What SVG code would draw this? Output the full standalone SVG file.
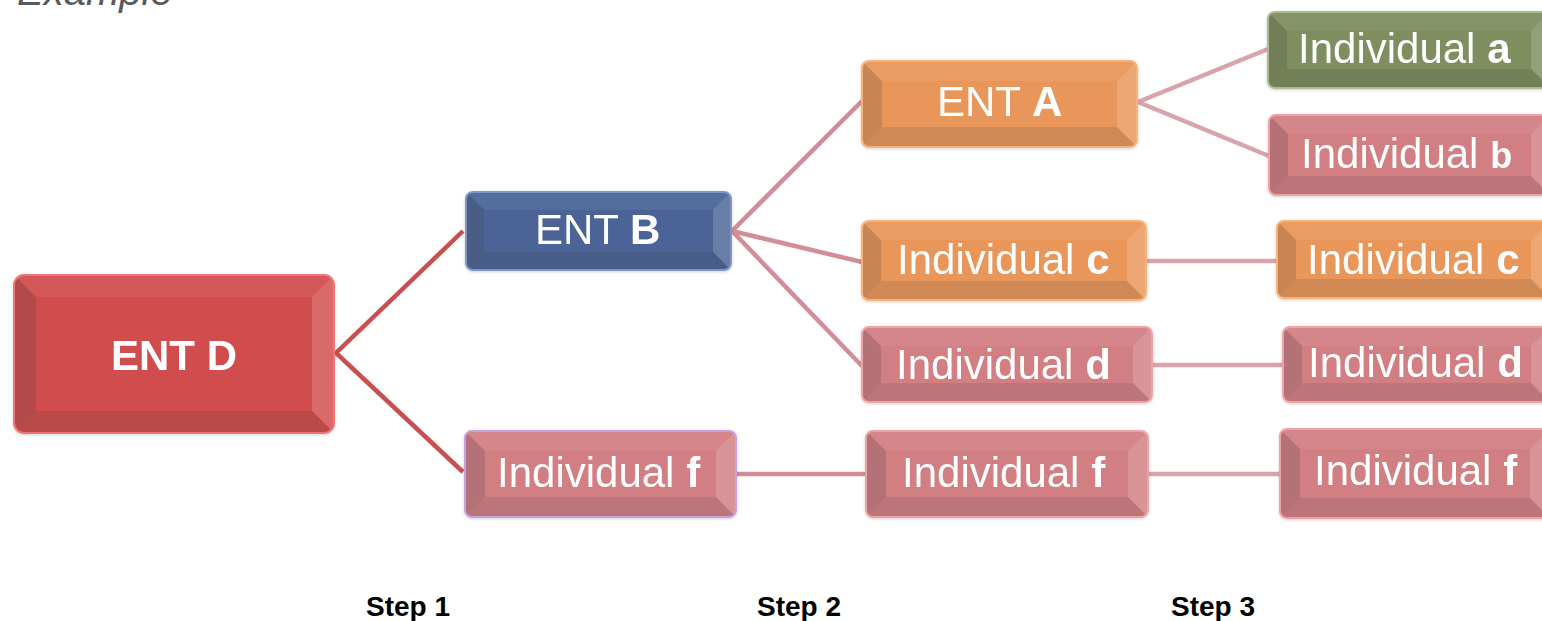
<svg xmlns="http://www.w3.org/2000/svg" width="1542" height="621" viewBox="0 0 1542 621">
  <style>
    .txt { font-family: "Liberation Sans", Arial, sans-serif; fill: #ffffff; font-size: 42px; }
    .b { font-weight: bold; }
    .step { font-family: "Liberation Sans", Arial, sans-serif; font-weight: bold; font-size: 28px; fill: #000; text-anchor: middle; }
    .title { font-family: "Liberation Sans", Arial, sans-serif; font-style: italic; font-size: 40px; fill: #595959; }
    .hi { fill: #ffffff; fill-opacity: 0.06; }
    .hr { fill: #ffffff; fill-opacity: 0.17; }
    .lo { fill: #404040; fill-opacity: 0.2; }
    .lb { fill: #303030; fill-opacity: 0.13; }
    .red { fill: #d14d4e; }
    .blue { fill: #4b6496; }
    .orange { fill: #e9965a; }
    .pink { fill: #d27f84; }
    .green { fill: #7e8e5f; }
    .edge { fill: none; stroke-width: 2; }
    .redS { stroke: #f27474; }
    .blueS { stroke: #7e97c9; }
    .orangeS { stroke: #fcb272; }
    .pinkS { stroke: #f0a2a6; }
    .purpleS { stroke: #c6a2e2; }
    .greenS { stroke: #aabb8c; }
    .c1 { stroke: #c85050; stroke-width: 4.5; fill: none; }
    .c2 { stroke: #d48d96; stroke-width: 4.5; fill: none; }
    .c3 { stroke: #d9a3ac; stroke-width: 4.5; fill: none; }
  </style>
  <defs>
    <filter id="soft" x="-5%" y="-10%" width="110%" height="120%">
      <feGaussianBlur in="SourceAlpha" stdDeviation="1.5"/>
      <feOffset dx="0" dy="1" result="b"/>
      <feFlood flood-color="#000" flood-opacity="0.18"/>
      <feComposite in2="b" operator="in"/>
      <feMerge><feMergeNode/><feMergeNode in="SourceGraphic"/></feMerge>
    </filter>
    <clipPath id="kD"><rect x="14" y="275" width="320" height="158" rx="10"/></clipPath>
    <clipPath id="kB"><rect x="466" y="192" width="265" height="78" rx="7"/></clipPath>
    <clipPath id="kF1"><rect x="465" y="431" width="271" height="86" rx="7"/></clipPath>
    <clipPath id="kA"><rect x="862" y="61" width="275" height="86" rx="7"/></clipPath>
    <clipPath id="kC2"><rect x="862" y="221" width="284" height="79" rx="7"/></clipPath>
    <clipPath id="kD2"><rect x="862" y="327" width="290" height="75" rx="7"/></clipPath>
    <clipPath id="kF2"><rect x="866" y="431" width="282" height="86" rx="7"/></clipPath>
    <clipPath id="kA3"><rect x="1268" y="12" width="282" height="76" rx="7"/></clipPath>
    <clipPath id="kB3"><rect x="1269" y="115" width="281" height="80" rx="7"/></clipPath>
    <clipPath id="kC3"><rect x="1277" y="221" width="273" height="77" rx="7"/></clipPath>
    <clipPath id="kD3"><rect x="1283" y="327" width="267" height="75" rx="7"/></clipPath>
    <clipPath id="kF3"><rect x="1280" y="429" width="270" height="89" rx="7"/></clipPath>
  </defs>

  <rect width="1542" height="621" fill="#ffffff"/>
  <text class="title" x="17" y="5">Example</text>

  <!-- connectors -->
  <g id="connectors">
    <polyline class="c1" points="463,231 336,353 463,472"/>
    <line class="c2" x1="732" y1="231" x2="862" y2="101"/>
    <line class="c2" x1="732" y1="231" x2="862" y2="262"/>
    <line class="c2" x1="732" y1="231" x2="862" y2="366"/>
    <line class="c2" x1="736" y1="474" x2="866" y2="474"/>
    <line class="c3" x1="1138" y1="102" x2="1268" y2="49"/>
    <line class="c3" x1="1138" y1="102" x2="1269" y2="156"/>
    <line class="c3" x1="1146" y1="261" x2="1277" y2="261"/>
    <line class="c3" x1="1152" y1="365" x2="1283" y2="365"/>
    <line class="c3" x1="1148" y1="474" x2="1280" y2="474"/>
  </g>

  <!-- ENT D -->
  <g id="entD" filter="url(#soft)">
    <rect class="red" x="14" y="275" width="320" height="158" rx="10"/>
    <g clip-path="url(#kD)">
      <polygon class="hi" points="14,275 334,275 312,297 36,297"/>
      <polygon class="hr" points="334,275 312,297 312,411 334,433"/>
      <polygon class="lo" points="14,275 36,297 36,411 14,433"/>
      <polygon class="lb" points="14,433 334,433 312,411 36,411"/>
    </g>
    <rect class="edge redS" x="14" y="275" width="320" height="158" rx="10"/>
    <text class="txt b" x="174" y="370" font-size="50" text-anchor="middle">ENT D</text>
  </g>

  <!-- ENT B -->
  <g id="entB" filter="url(#soft)">
    <rect class="blue" x="466" y="192" width="265" height="78" rx="7"/>
    <g clip-path="url(#kB)">
      <polygon class="hi" points="466,192 731,192 713,210 484,210"/>
      <polygon class="hr" points="731,192 713,210 713,252 731,270"/>
      <polygon class="lo" points="466,192 484,210 484,252 466,270"/>
      <polygon class="lb" points="466,270 731,270 713,252 484,252"/>
    </g>
    <rect class="edge blueS" x="466" y="192" width="265" height="78" rx="7"/>
    <text class="txt" x="535" y="244">ENT <tspan class="b">B</tspan></text>
  </g>

  <!-- Individual f, step 1 -->
  <g id="indF1" filter="url(#soft)">
    <rect class="pink" x="465" y="431" width="271" height="86" rx="7"/>
    <g clip-path="url(#kF1)">
      <polygon class="hi" points="465,431 736,431 716,451 485,451"/>
      <polygon class="hr" points="736,431 716,451 716,497 736,517"/>
      <polygon class="lo" points="465,431 485,451 485,497 465,517"/>
      <polygon class="lb" points="465,517 736,517 716,497 485,497"/>
    </g>
    <rect class="edge purpleS" x="465" y="431" width="271" height="86" rx="7"/>
    <text class="txt" x="497" y="487">Individual <tspan class="b">f</tspan></text>
  </g>

  <!-- ENT A -->
  <g id="entA" filter="url(#soft)">
    <rect class="orange" x="862" y="61" width="275" height="86" rx="7"/>
    <g clip-path="url(#kA)">
      <polygon class="hi" points="862,61 1137,61 1117,81 882,81"/>
      <polygon class="hr" points="1137,61 1117,81 1117,127 1137,147"/>
      <polygon class="lo" points="862,61 882,81 882,127 862,147"/>
      <polygon class="lb" points="862,147 1137,147 1117,127 882,127"/>
    </g>
    <rect class="edge orangeS" x="862" y="61" width="275" height="86" rx="7"/>
    <text class="txt" x="937" y="116">ENT <tspan class="b">A</tspan></text>
  </g>

  <!-- Individual c, step 2 -->
  <g id="indC2" filter="url(#soft)">
    <rect class="orange" x="862" y="221" width="284" height="79" rx="7"/>
    <g clip-path="url(#kC2)">
      <polygon class="hi" points="862,221 1146,221 1127,240 881,240"/>
      <polygon class="hr" points="1146,221 1127,240 1127,281 1146,300"/>
      <polygon class="lo" points="862,221 881,240 881,281 862,300"/>
      <polygon class="lb" points="862,300 1146,300 1127,281 881,281"/>
    </g>
    <rect class="edge orangeS" x="862" y="221" width="284" height="79" rx="7"/>
    <text class="txt" x="897" y="274">Individual <tspan class="b">c</tspan></text>
  </g>

  <!-- Individual d, step 2 -->
  <g id="indD2" filter="url(#soft)">
    <rect class="pink" x="862" y="327" width="290" height="75" rx="7"/>
    <g clip-path="url(#kD2)">
      <polygon class="hi" points="862,327 1152,327 1133,346 881,346"/>
      <polygon class="hr" points="1152,327 1133,346 1133,383 1152,402"/>
      <polygon class="lo" points="862,327 881,346 881,383 862,402"/>
      <polygon class="lb" points="862,402 1152,402 1133,383 881,383"/>
    </g>
    <rect class="edge pinkS" x="862" y="327" width="290" height="75" rx="7"/>
    <text class="txt" x="896" y="379">Individual <tspan class="b">d</tspan></text>
  </g>

  <!-- Individual f, step 2 -->
  <g id="indF2" filter="url(#soft)">
    <rect class="pink" x="866" y="431" width="282" height="86" rx="7"/>
    <g clip-path="url(#kF2)">
      <polygon class="hi" points="866,431 1148,431 1128,451 886,451"/>
      <polygon class="hr" points="1148,431 1128,451 1128,497 1148,517"/>
      <polygon class="lo" points="866,431 886,451 886,497 866,517"/>
      <polygon class="lb" points="866,517 1148,517 1128,497 886,497"/>
    </g>
    <rect class="edge pinkS" x="866" y="431" width="282" height="86" rx="7"/>
    <text class="txt" x="902" y="487">Individual <tspan class="b">f</tspan></text>
  </g>

  <!-- Individual a, step 3 -->
  <g id="indA3" filter="url(#soft)">
    <rect class="green" x="1268" y="12" width="282" height="76" rx="7"/>
    <g clip-path="url(#kA3)">
      <polygon class="hi" points="1268,12 1550,12 1531,31 1287,31"/>
      <polygon class="hr" points="1550,12 1531,31 1531,69 1550,88"/>
      <polygon class="lo" points="1268,12 1287,31 1287,69 1268,88"/>
      <polygon class="lb" points="1268,88 1550,88 1531,69 1287,69"/>
    </g>
    <rect class="edge greenS" x="1268" y="12" width="282" height="76" rx="7"/>
    <text class="txt" x="1298" y="63">Individual <tspan class="b">a</tspan></text>
  </g>

  <!-- Individual b, step 3 -->
  <g id="indB3" filter="url(#soft)">
    <rect class="pink" x="1269" y="115" width="281" height="80" rx="7"/>
    <g clip-path="url(#kB3)">
      <polygon class="hi" points="1269,115 1550,115 1531,134 1288,134"/>
      <polygon class="hr" points="1550,115 1531,134 1531,176 1550,195"/>
      <polygon class="lo" points="1269,115 1288,134 1288,176 1269,195"/>
      <polygon class="lb" points="1269,195 1550,195 1531,176 1288,176"/>
    </g>
    <rect class="edge pinkS" x="1269" y="115" width="281" height="80" rx="7"/>
    <text class="txt" x="1301" y="168" font-size="40">Individual <tspan class="b" font-size="36">b</tspan></text>
  </g>

  <!-- Individual c, step 3 -->
  <g id="indC3" filter="url(#soft)">
    <rect class="orange" x="1277" y="221" width="273" height="77" rx="7"/>
    <g clip-path="url(#kC3)">
      <polygon class="hi" points="1277,221 1550,221 1531,240 1296,240"/>
      <polygon class="hr" points="1550,221 1531,240 1531,279 1550,298"/>
      <polygon class="lo" points="1277,221 1296,240 1296,279 1277,298"/>
      <polygon class="lb" points="1277,298 1550,298 1531,279 1296,279"/>
    </g>
    <rect class="edge orangeS" x="1277" y="221" width="273" height="77" rx="7"/>
    <text class="txt" x="1307" y="274">Individual <tspan class="b">c</tspan></text>
  </g>

  <!-- Individual d, step 3 -->
  <g id="indD3" filter="url(#soft)">
    <rect class="pink" x="1283" y="327" width="267" height="75" rx="7"/>
    <g clip-path="url(#kD3)">
      <polygon class="hi" points="1283,327 1550,327 1531,346 1302,346"/>
      <polygon class="hr" points="1550,327 1531,346 1531,383 1550,402"/>
      <polygon class="lo" points="1283,327 1302,346 1302,383 1283,402"/>
      <polygon class="lb" points="1283,402 1550,402 1531,383 1302,383"/>
    </g>
    <rect class="edge pinkS" x="1283" y="327" width="267" height="75" rx="7"/>
    <text class="txt" x="1308" y="377" font-size="40">Individual <tspan class="b">d</tspan></text>
  </g>

  <!-- Individual f, step 3 -->
  <g id="indF3" filter="url(#soft)">
    <rect class="pink" x="1280" y="429" width="270" height="89" rx="7"/>
    <g clip-path="url(#kF3)">
      <polygon class="hi" points="1280,429 1550,429 1530,449 1300,449"/>
      <polygon class="hr" points="1550,429 1530,449 1530,498 1550,518"/>
      <polygon class="lo" points="1280,429 1300,449 1300,498 1280,518"/>
      <polygon class="lb" points="1280,518 1550,518 1530,498 1300,498"/>
    </g>
    <rect class="edge pinkS" x="1280" y="429" width="270" height="89" rx="7"/>
    <text class="txt" x="1314" y="485" font-size="40">Individual <tspan class="b">f</tspan></text>
  </g>

  <!-- step labels -->
  <text class="step" x="408" y="616">Step 1</text>
  <text class="step" x="799" y="616">Step 2</text>
  <text class="step" x="1213" y="616">Step 3</text>
</svg>
